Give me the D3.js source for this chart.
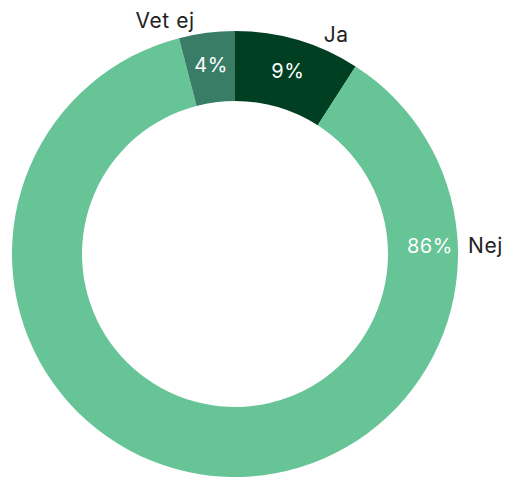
<!DOCTYPE html>
<html>
<head>
<meta charset="utf-8">
<script src="https://cdn.jsdelivr.net/npm/d3@7"></script>
<style>
	body { margin: 0; background: #fff; }
	text { font-family: Inter, "Noto Sans", sans-serif; }
</style>
</head>
<body>
<div id="app"></div>
<script>
const categories = ["Ja", "Nej", "Vet ej"];
const values = [9, 86, 4];
const colors = ["#003f22", "#66c497", "#3a7d66"];

const width = 509, height = 477;
const cx = 235, cy = 254;
const outerR = 223, innerR = 153;

const svg = d3.select("#app").append("svg")
	.attr("width", width)
	.attr("height", height);

const g = svg.append("g")
	.attr("transform", `translate(${cx},${cy})`);

const pie = d3.pie().sort(null).value(d => d)(values);

const arc = d3.arc().innerRadius(innerR).outerRadius(outerR);

g.selectAll("path")
	.data(pie)
	.enter()
	.append("path")
	.attr("d", arc)
	.attr("fill", (d, i) => colors[i]);

const isBig = d => d.endAngle - d.startAngle > Math.PI;

// big slice gets its label on the right side, small ones near their middle
function labelAngle(d) {
	let mid = (d.startAngle + d.endAngle) / 2;
	if (isBig(d)) return Math.PI / 2;
	if (mid > Math.PI) mid -= 2 * Math.PI;
	return mid;
}

const midR = (innerR + outerR) / 2;

g.selectAll(".pct")
	.data(pie)
	.enter()
	.append("text")
	.attr("class", "pct")
	.attr("x", d => (isBig(d) ? midR + 7 : midR) * Math.sin(labelAngle(d)))
	.attr("y", d => -midR * Math.cos(labelAngle(d)) - (isBig(d) ? 8 : 3))
	.attr("dy", "0.35em")
	.attr("text-anchor", "middle")
	.attr("fill", "#fff")
	.attr("font-size", 20)
	.attr("letter-spacing", 0.6)
	.text(d => d.data + "%");

g.selectAll(".name")
	.data(pie)
	.enter()
	.append("text")
	.attr("class", "name")
	.each(function(d) {
		const big = isBig(d);
		const a = big ? labelAngle(d) : labelAngle(d) * 1.35;
		const r = big ? 233 : 236;
		const x = r * Math.sin(a), y = -r * Math.cos(a);
		d3.select(this)
			.attr("x", x)
			.attr("y", y - (big ? 8.5 : 1))
			.attr("dy", "0.35em")
			.attr("text-anchor", x >= 0 ? "start" : "end");
	})
	.attr("fill", "#222")
	.attr("font-size", 21)
	.attr("letter-spacing", 0.6)
	.text((d, i) => categories[i]);
</script>
</body>
</html>
